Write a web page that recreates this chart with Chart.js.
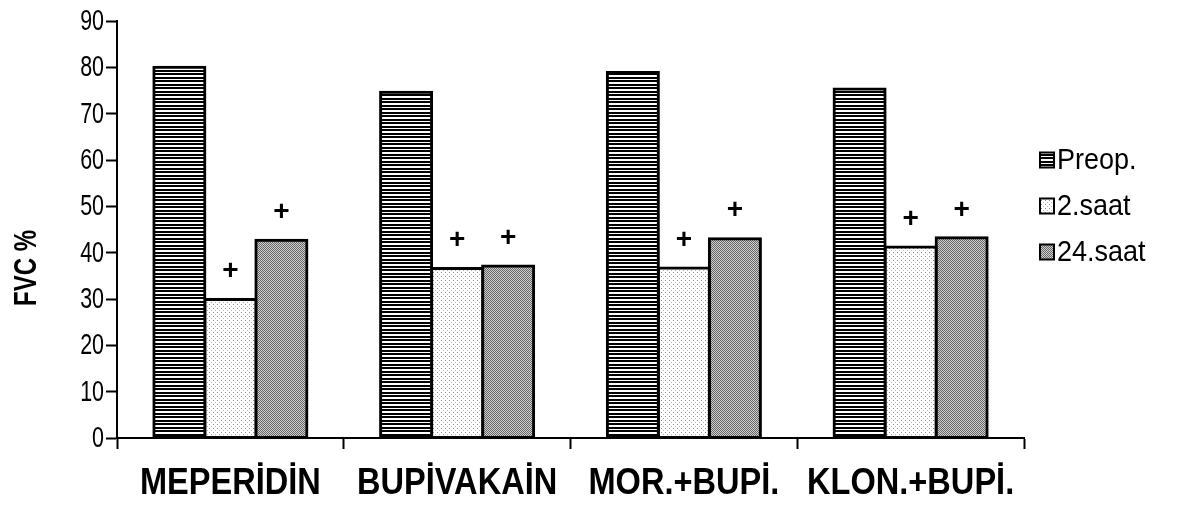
<!DOCTYPE html>
<html>
<head>
<meta charset="utf-8">
<script src="https://cdn.jsdelivr.net/npm/chart.js@4.4.1/dist/chart.umd.min.js"></script>
<style>
  html, body { margin: 0; padding: 0; background: #ffffff; }
  #wrap { width: 1193px; height: 507px; position: relative; }
</style>
</head>
<body>
<div id="wrap"><canvas id="c" width="1193" height="507"></canvas></div>
<script>
// FVC % by group and time point
const categories = ['MEPERİDİN', 'BUPİVAKAİN', 'MOR.+BUPİ.', 'KLON.+BUPİ.'];
const seriesNames = ['Preop.', '2.saat', '24.saat'];
const preopValues = [80.0, 74.6, 78.9, 75.3];
const saat2Values = [29.9, 36.6, 36.7, 41.2];
const saat24Values = [42.7, 37.1, 43.0, 43.2];
// "+" marks significant change versus preop
const preopSig = [false, false, false, false];
const saat2Sig = [true, true, true, true];
const saat24Sig = [true, true, true, true];
const yTickValues = [0, 10, 20, 30, 40, 50, 60, 70, 80, 90];
const yTitle = 'FVC %';

const FONT = "'Liberation Sans', Arial, sans-serif";

function makePattern(w, h, paint) {
  const c = document.createElement('canvas');
  c.width = w; c.height = h;
  const g = c.getContext('2d');
  paint(g);
  return document.createElement('canvas').getContext('2d').createPattern(c, 'repeat');
}

// horizontal black stripes
const stripePattern = makePattern(1, 7, g => {
  g.fillStyle = '#ffffff'; g.fillRect(0, 0, 1, 7);
  g.fillStyle = '#000000';
  g.fillRect(0, 0, 1, 2); g.fillRect(0, 3, 1, 2);
});
// sparse grey dots
const dotPattern = makePattern(4, 4, g => {
  g.fillStyle = '#ffffff'; g.fillRect(0, 0, 4, 4);
  g.fillStyle = '#8a8a8a'; g.fillRect(1, 0, 1, 1);
  g.fillStyle = '#b5b5b5'; g.fillRect(3, 2, 1, 1);
});
// dense grey checker
const checkPattern = makePattern(2, 2, g => {
  g.fillStyle = '#d0d0d0'; g.fillRect(0, 0, 2, 2);
  g.fillStyle = '#666666'; g.fillRect(0, 0, 1, 1); g.fillRect(1, 1, 1, 1);
});

const fills = [stripePattern, dotPattern, checkPattern];
const sigs = [preopSig, saat2Sig, saat24Sig];

const barCommon = {
  borderColor: '#000000',
  borderWidth: 3,
  borderSkipped: false,
  inflateAmount: 1.5,
  categoryPercentage: 0.675,
  barPercentage: 1.0
};

// text drawn with a horizontal condense factor
function condensedText(ctx, text, x, y, font, sx, align, baseline) {
  ctx.save();
  ctx.font = font;
  ctx.textAlign = align;
  ctx.textBaseline = baseline;
  ctx.translate(x, y);
  ctx.scale(sx, 1);
  ctx.fillText(text, 0, 0);
  ctx.restore();
}

const axisText = {
  id: 'axisText',
  afterDraw(chart) {
    const ctx = chart.ctx;
    const ys = chart.scales.y, xs = chart.scales.x;
    ctx.save();
    ctx.fillStyle = '#000000';
    // y tick labels
    yTickValues.forEach(v => {
      condensedText(ctx, String(v), 104, ys.getPixelForValue(v) + 1, '29px ' + FONT, 0.74, 'right', 'middle');
    });
    // category labels
    categories.forEach((c, i) => {
      condensedText(ctx, c, xs.getPixelForTick(i), 484, 'bold 37px ' + FONT, 0.88, 'center', 'middle');
    });
    // y title, rotated
    ctx.save();
    ctx.translate(27, 268);
    ctx.rotate(-Math.PI / 2);
    ctx.scale(0.75, 1);
    ctx.font = 'bold 32px ' + FONT;
    ctx.textAlign = 'center';
    ctx.textBaseline = 'middle';
    ctx.fillText(yTitle, 0, 0);
    ctx.restore();
    ctx.restore();
  }
};

const plusMarks = {
  id: 'plusMarks',
  afterDatasetsDraw(chart) {
    const ctx = chart.ctx;
    ctx.save();
    ctx.fillStyle = '#000000';
    ctx.font = 'bold 28px ' + FONT;
    ctx.textAlign = 'center';
    ctx.textBaseline = 'middle';
    chart.data.datasets.forEach((ds, di) => {
      const meta = chart.getDatasetMeta(di);
      meta.data.forEach((bar, i) => {
        if (sigs[di][i]) ctx.fillText('+', bar.x, bar.y - 28);
      });
    });
    ctx.restore();
  }
};

const sideLegend = {
  id: 'sideLegend',
  afterDraw(chart) {
    const ctx = chart.ctx;
    ctx.save();
    const boxX = 1040, boxW = 14, boxH = 15, textX = 1057;
    const firstY = 160, stepY = 46;
    chart.data.datasets.forEach((ds, i) => {
      const cy = firstY + i * stepY;
      ctx.fillStyle = fills[i];
      ctx.fillRect(boxX, cy - boxH / 2, boxW, boxH);
      ctx.strokeStyle = '#000000';
      ctx.lineWidth = 2;
      ctx.strokeRect(boxX, cy - boxH / 2, boxW, boxH);
      ctx.fillStyle = '#000000';
      condensedText(ctx, ds.label, textX, cy + 1, '30px ' + FONT, 0.9, 'left', 'middle');
    });
    ctx.restore();
  }
};

new Chart(document.getElementById('c'), {
  type: 'bar',
  data: {
    labels: categories,
    datasets: [
      Object.assign({ label: seriesNames[0], data: preopValues, backgroundColor: fills[0] }, barCommon),
      Object.assign({ label: seriesNames[1], data: saat2Values, backgroundColor: fills[1] }, barCommon),
      Object.assign({ label: seriesNames[2], data: saat24Values, backgroundColor: fills[2] }, barCommon)
    ]
  },
  plugins: [plusMarks, axisText, sideLegend],
  options: {
    responsive: false,
    animation: false,
    devicePixelRatio: 1,
    layout: { padding: { left: 0, top: 21, right: 169, bottom: 0 } },
    plugins: { legend: { display: false }, tooltip: { enabled: false } },
    scales: {
      x: {
        afterFit(s) { s.height = 69; },
        border: { display: true, color: '#000000', width: 2 },
        grid: { offset: true, drawOnChartArea: false, drawTicks: true, tickLength: 11, tickColor: '#000000', tickWidth: 2 },
        ticks: { display: false }
      },
      y: {
        min: 0, max: 90,
        afterFit(s) { s.width = 117; },
        afterBuildTicks(s) { s.ticks = yTickValues.map(v => ({ value: v })); },
        border: { display: true, color: '#000000', width: 2 },
        grid: { drawOnChartArea: false, drawTicks: true, tickLength: 11, tickColor: '#000000', tickWidth: 2 },
        ticks: { display: false }
      }
    }
  }
});
</script>
</body>
</html>
